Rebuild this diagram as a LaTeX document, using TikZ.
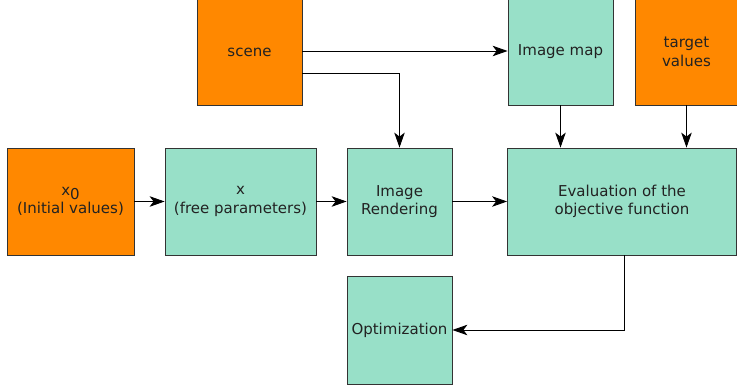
\documentclass[tikz,border=0pt]{standalone}
\usepackage{fontspec}
\setmainfont{DejaVu Sans}
\usetikzlibrary{arrows.meta,calc}
\definecolor{org}{HTML}{FF8800}
\definecolor{teal}{HTML}{98E0C8}
\definecolor{txt}{HTML}{222222}
\begin{document}
\begin{tikzpicture}[x=1pt,y=-1pt,
  box/.style={draw=black!80,line width=0.8pt,inner sep=0pt,align=center,text=txt,
    font=\fontsize{15}{18.5}\selectfont},
  obox/.style={box,fill=org},
  tbox/.style={box,fill=teal},
  arr/.style={draw=black,line width=0.9pt,-{Stealth[length=15pt,width=10.5pt,inset=4pt]}}]
\useasboundingbox (0,0) rectangle (737,387);
\node[obox,minimum width=127pt,minimum height=107pt] (x0) at (70.5,201.5) {x\raisebox{-4pt}{0}\\(Initial values)};
\node[tbox,minimum width=151pt,minimum height=107pt] (x) at (240.5,201.5) {x\\(free parameters)};
\node[tbox,minimum width=105pt,minimum height=107pt] (ir) at (399.5,201.5) {Image\\Rendering};
\node[tbox,minimum width=229pt,minimum height=107pt] (ev) at (622,201.5) {Evaluation of the\\objective function};
\node[obox,minimum width=105pt,minimum height=106pt] (scene) at (249.5,52) {scene};
\node[tbox,minimum width=105pt,minimum height=106pt] (map) at (560.5,52) {Image map};
\node[obox,minimum width=102pt,minimum height=106pt] (tv) at (686.5,52) {target\\values};
\node[tbox,minimum width=105pt,minimum height=108pt] (opt) at (399.5,330) {Optimization};
\draw[arr] (x0.east) -- (x.west);
\draw[arr] (x.east) -- (ir.west);
\draw[arr] (ir.east) -- (ev.west);
\draw[arr] ([yshift=1pt]scene.east) -- ([yshift=1pt]map.west);
\draw[arr] ([yshift=-21pt]scene.east) -| (ir.north);
\draw[arr] (map.south) -- (map.south |- ev.north);
\draw[arr] (tv.south) -- (tv.south |- ev.north);
\draw[arr] ([xshift=2pt]ev.south) |- (opt.east);
\end{tikzpicture}
\end{document}
